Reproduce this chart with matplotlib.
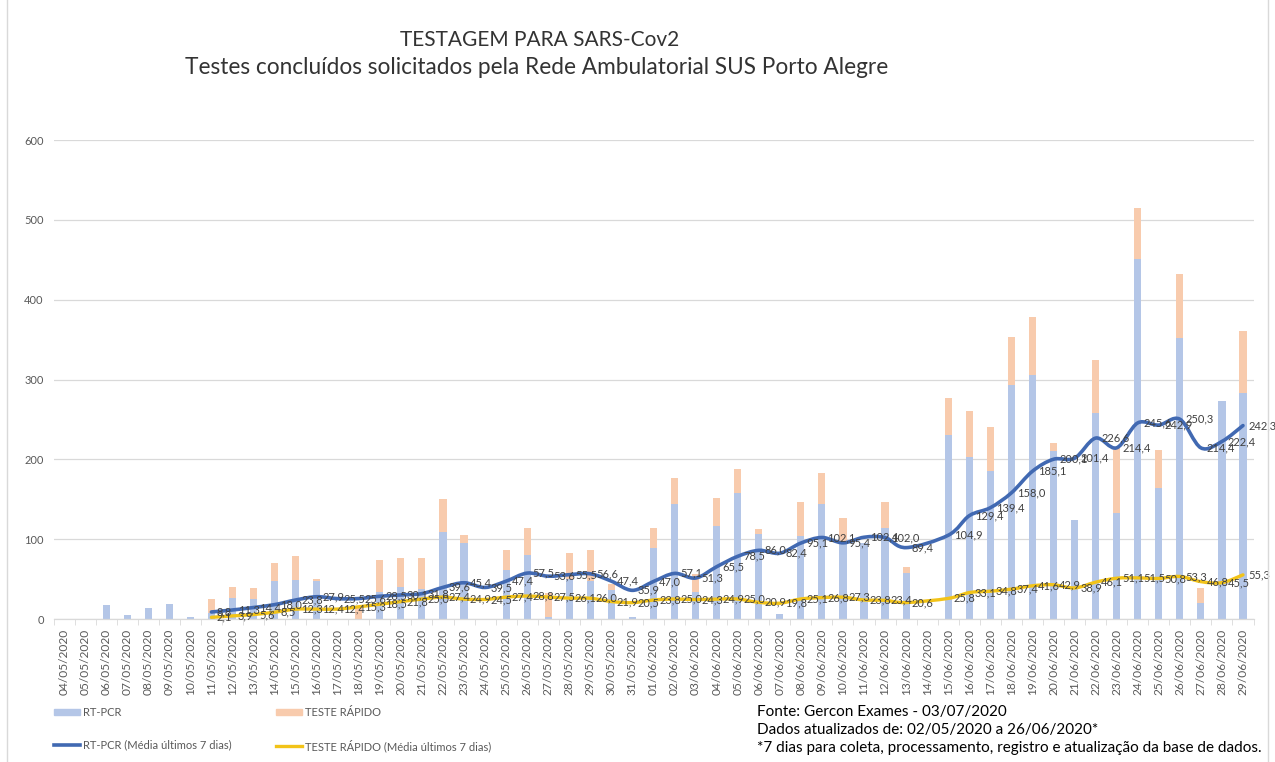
import numpy as np
import matplotlib
matplotlib.use("Agg")
import matplotlib.pyplot as plt
from matplotlib.path import Path
from matplotlib.patches import PathPatch, Patch
from matplotlib.lines import Line2D

plt.rcParams['font.family'] = ['Lato', 'DejaVu Sans']

# --- data (04/05/2020 .. 29/06/2020) ---
dates = ["04/05/2020", "05/05/2020", "06/05/2020", "07/05/2020", "08/05/2020", "09/05/2020",
         "10/05/2020", "11/05/2020", "12/05/2020", "13/05/2020", "14/05/2020", "15/05/2020",
         "16/05/2020", "17/05/2020", "18/05/2020", "19/05/2020", "20/05/2020", "21/05/2020",
         "22/05/2020", "23/05/2020", "24/05/2020", "25/05/2020", "26/05/2020", "27/05/2020",
         "28/05/2020", "29/05/2020", "30/05/2020", "31/05/2020", "01/06/2020", "02/06/2020",
         "03/06/2020", "04/06/2020", "05/06/2020", "06/06/2020", "07/06/2020", "08/06/2020",
         "09/06/2020", "10/06/2020", "11/06/2020", "12/06/2020", "13/06/2020", "14/06/2020",
         "15/06/2020", "16/06/2020", "17/06/2020", "18/06/2020", "19/06/2020", "20/06/2020",
         "21/06/2020", "22/06/2020", "23/06/2020", "24/06/2020", "25/06/2020", "26/06/2020",
         "27/06/2020", "28/06/2020", "29/06/2020"]

rt_pcr = [0, 0, 18, 5, 14, 19, 2,
          8, 26, 25, 47, 49, 48,
          0, 0, 34, 40, 37, 109, 95,
          0, 61, 80, 3, 50, 48, 36, 2,
          89, 144, 34, 117, 158, 107, 6, 104, 144, 98, 95, 114, 57,
          0,
          231, 203, 185, 293, 306, 210, 124, 258, 133, 451, 164, 352, 20, 273, 283]

teste_rapido = [0, 0, 0, 0, 0, 0, 0,
                17, 14, 14, 23, 30, 2,
                0, 15, 40, 37, 40, 41, 10,
                0, 25, 34, 30, 33, 38, 8, 0,
                25, 33, 22, 34, 30, 6, 0, 43, 39, 28, 0, 32, 8,
                0,
                46, 58, 56, 60, 72, 10, 0, 67, 81, 64, 48, 80, 19, 0, 78]

N = None
rt_pcr_media = [N, N, N, N, N, N, N,
                8.8, 11.3, 14.4, 18.0, 23.8, 27.9, 25.5, 25.6, 28.5, 30.1, 31.8,
                39.6, 45.4, 39.5, 47.4, 57.5, 53.6, 55.5, 56.6, 47.4, 35.9, 47.0,
                57.1, 51.3, 65.5, 78.5, 86.0, 82.4, 95.1, 102.1, 95.4, 102.4, 102.0, 89.4,
                N,
                104.9, 129.4, 139.4, 158.0, 185.1, 200.1, 201.4, 226.6, 214.4, 245.6,
                242.9, 250.3, 214.4, 222.4, 242.3]

rapido_media = [N, N, N, N, N, N, N,
                2.1, 3.9, 5.6, 8.5, 12.3, 12.4, 12.4, 15.3, 18.5, 21.8, 25.0,
                27.4, 24.9, 24.5, 27.4, 28.8, 27.5, 26.1, 26.0, 21.9, 20.5, 23.8,
                25.0, 24.3, 24.9, 25.0, 20.9, 19.8, 25.1, 26.8, 27.3, 23.8, 23.4, 20.6,
                N,
                25.8, 33.1, 34.8, 37.4, 41.6, 42.9, 38.9, 46.1, 51.1, 51.5, 50.8,
                53.3, 46.8, 45.5, 55.3]

BLUE_BAR = "#B4C6E7"
ORANGE_BAR = "#F8CBAD"
BLUE_LINE = "#4169B2"
YELLOW_LINE = "#F2C318"
TXT = "#404040"


def smooth_path(xs, ys):
    # Catmull-Rom style bezier through the points (like Excel's smoothed line)
    pts = np.column_stack([xs, ys])
    verts = [pts[0]]
    codes = [Path.MOVETO]
    n = len(pts)
    for i in range(n - 1):
        p0 = pts[i - 1] if i > 0 else pts[i]
        p1 = pts[i]
        p2 = pts[i + 1]
        p3 = pts[i + 2] if i + 2 < n else pts[i + 1]
        c1 = p1 + (p2 - p0) / 6.0
        c2 = p2 - (p3 - p1) / 6.0
        verts += [c1, c2, p2]
        codes += [Path.CURVE4] * 3
    return Path(verts, codes)


def draw_media(ax, values, color, lw):
    idx = [i for i, v in enumerate(values) if v is not None]
    vals = [values[i] for i in idx]
    path = smooth_path(np.array(idx, float), np.array(vals, float))
    ax.add_patch(PathPatch(path, fill=False, edgecolor=color, lw=lw,
                           capstyle='round', joinstyle='round', zorder=4))
    for i, v in zip(idx, vals):
        ax.annotate(f"{v:.1f}".replace(".", ","), (i, v), xytext=(4, 0),
                    textcoords="offset points", ha="left", va="center",
                    fontsize=8, color=TXT, zorder=6)


fig = plt.figure(figsize=(12.75, 7.62), dpi=100)
ax = fig.add_axes([53.5 / 1275, 1 - 619 / 762, 1200 / 1275, 479 / 762])

x = np.arange(len(dates))
ax.bar(x, rt_pcr, width=0.34, color=BLUE_BAR, zorder=2)
ax.bar(x, teste_rapido, width=0.34, bottom=rt_pcr, color=ORANGE_BAR, zorder=2)

draw_media(ax, rt_pcr_media, BLUE_LINE, 2.6)
draw_media(ax, rapido_media, YELLOW_LINE, 2.4)

ax.set_xlim(-0.5, len(dates) - 0.5)
ax.set_ylim(0, 600)
ax.set_yticks(range(0, 601, 100))
ax.yaxis.grid(True, color="#D9D9D9", lw=0.9, zorder=0)
ax.set_axisbelow(True)
for s in ["top", "right", "left"]:
    ax.spines[s].set_visible(False)
ax.spines["bottom"].set_color("#D9D9D9")
ax.spines["bottom"].set_linewidth(0.9)

ax.set_xticks(x)
ax.set_xticklabels(dates, rotation=90, fontsize=8.6, color="#595959")
ax.set_xticks(np.arange(-0.5, len(dates), 1), minor=True)
ax.tick_params(axis="x", which="major", length=0, pad=7)
ax.tick_params(axis="x", which="minor", length=4, color="#D9D9D9")
ax.tick_params(axis="y", length=0, pad=7, labelsize=8, labelcolor="#595959")

fig.text(540 / 1275, 1 - 40 / 762, "TESTAGEM PARA SARS-Cov2", ha="center", va="center",
         fontsize=15, color="#333333")
fig.text(537 / 1275, 1 - 68 / 762,
         "Testes concluídos solicitados pela Rede Ambulatorial SUS Porto Alegre",
         ha="center", va="center", fontsize=16.3, color="#333333")

handles = [Patch(color=BLUE_BAR), Line2D([], [], color=BLUE_LINE, lw=2.6),
           Patch(color=ORANGE_BAR), Line2D([], [], color=YELLOW_LINE, lw=2.4)]
labels = ["RT-PCR", "RT-PCR (Média últimos 7 dias)",
          "TESTE RÁPIDO", "TESTE RÁPIDO (Média últimos 7 dias)"]
fig.legend(handles, labels, ncol=2, loc="upper left",
           bbox_to_anchor=(44 / 1275, 1 - 697 / 762), frameon=False,
           fontsize=8, labelcolor="#595959", handlelength=2.3, handleheight=0.5,
           handletextpad=0.3, columnspacing=4.0, labelspacing=1.9)

fig.text(757 / 1275, 1 - 712 / 762, "Fonte: Gercon Exames - 03/07/2020",
         ha="left", va="center", fontsize=11, color="black")
fig.text(757 / 1275, 1 - 730 / 762, "Dados atualizados de: 02/05/2020 a 26/06/2020*",
         ha="left", va="center", fontsize=11, color="black")
fig.text(757 / 1275, 1 - 748 / 762,
         "*7 dias para coleta, processamento, registro e atualização da base de dados.",
         ha="left", va="center", fontsize=11, color="black")

fig.add_artist(Line2D([7 / 1275, 7 / 1275], [0, 1], color="#D9D9D9", lw=1))
fig.add_artist(Line2D([1268 / 1275, 1268 / 1275], [0, 1], color="#D9D9D9", lw=1))

fig.savefig("out.png", dpi=100)
